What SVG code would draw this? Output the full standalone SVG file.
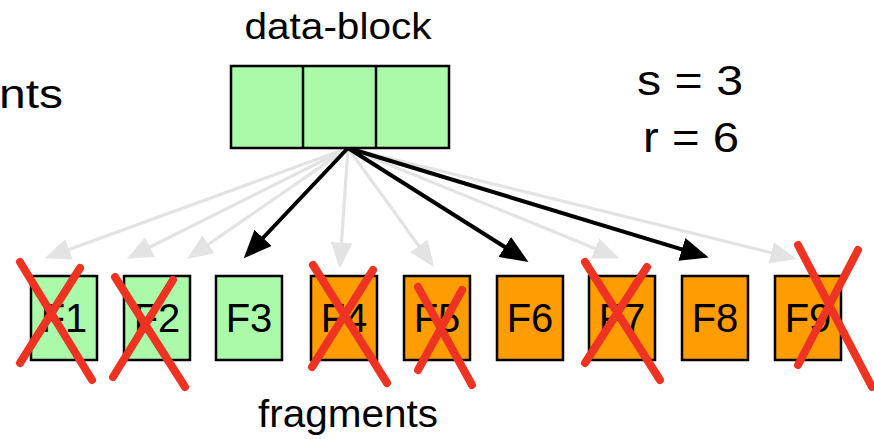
<svg xmlns="http://www.w3.org/2000/svg" width="874" height="439" viewBox="0 0 874 439">
<style>
text{font-family:"Liberation Sans",Arial,sans-serif;fill:#000}
.g{stroke:#e3e3e3;stroke-width:3.2;fill:none;marker-end:url(#ag)}
.k{stroke:#000;stroke-width:4;fill:none;marker-end:url(#ak)}
.green{fill:#aafaaa;stroke:#000;stroke-width:2.5}
.orange{fill:#ff9c00;stroke:#000;stroke-width:2.5}
.x{stroke:#ee3322;stroke-width:8;stroke-linecap:round;fill:none}
.lbl{font-size:40px;text-anchor:middle}
</style>
<defs>
<marker id="ag" markerUnits="userSpaceOnUse" markerWidth="26" markerHeight="22" refX="4" refY="10" orient="auto" viewBox="0 0 24 20"><path d="M0,0 L24,10 L0,20 Z" fill="#e3e3e3"/></marker>
<marker id="ak" markerUnits="userSpaceOnUse" markerWidth="28" markerHeight="24" refX="4" refY="11" orient="auto" viewBox="0 0 26 22"><path d="M0,0 L26,11 L0,22 Z" fill="#000"/></marker>
</defs>
<rect width="874" height="439" fill="#fff"/>
<g id="labels">
<text x="338" y="39" font-size="36" text-anchor="middle" textLength="187" lengthAdjust="spacingAndGlyphs">data-block</text>
<text x="63" y="108" font-size="40" text-anchor="end" textLength="64" lengthAdjust="spacingAndGlyphs">nts</text>
<text x="637" y="95" font-size="42" textLength="106" lengthAdjust="spacingAndGlyphs">s = 3</text>
<text x="643" y="152" font-size="42" textLength="96" lengthAdjust="spacingAndGlyphs">r = 6</text>
<text x="258" y="427" font-size="38" textLength="180" lengthAdjust="spacingAndGlyphs">fragments</text>
</g>
<g id="connectors">
<line class="g" x1="348" y1="148" x2="64.9" y2="250.9"/>
<line class="g" x1="348" y1="148" x2="146.1" y2="249"/>
<line class="g" x1="348" y1="148" x2="204.8" y2="246.8"/>
<line class="g" x1="348" y1="148" x2="341.2" y2="247"/>
<line class="g" x1="348" y1="148" x2="421.4" y2="249.4"/>
<line class="g" x1="348" y1="148" x2="599.3" y2="250.2"/>
<line class="g" x1="348" y1="148" x2="775.5" y2="253.7"/>
<line class="k" x1="348" y1="148" x2="260.1" y2="241"/>
<line class="k" x1="348" y1="148" x2="508.4" y2="249.3"/>
<line class="k" x1="348" y1="148" x2="686" y2="250.6"/>
</g>
<g id="data-block">
<rect class="green" x="231" y="66" width="218" height="82"/>
<line x1="303" y1="66" x2="303" y2="148" stroke="#000" stroke-width="2.5"/>
<line x1="376" y1="66" x2="376" y2="148" stroke="#000" stroke-width="2.5"/>
</g>
<g id="F1"><rect class="green" x="31" y="276" width="66" height="84"/><text class="lbl" x="64" y="332">F1</text><path class="x" d="M20,262 L92,380 M80,268 L20,363"/></g>
<g id="F2"><rect class="green" x="124" y="276" width="66" height="84"/><text class="lbl" x="157" y="332">F2</text><path class="x" d="M115,277 L185,387 M173,280 L113,377"/></g>
<g id="F3"><rect class="green" x="216" y="276" width="66" height="84"/><text class="lbl" x="249" y="332">F3</text></g>
<g id="F4"><rect class="orange" x="311" y="276" width="66" height="84"/><text class="lbl" x="344" y="332">F4</text><path class="x" d="M313,265 L387,383 M373,270 L312,367"/></g>
<g id="F5"><rect class="orange" x="404" y="276" width="66" height="84"/><text class="lbl" x="437" y="332">F5</text><path class="x" d="M418,287 L472,385 M462,290 L418,370"/></g>
<g id="F6"><rect class="orange" x="497" y="276" width="66" height="84"/><text class="lbl" x="530" y="332">F6</text></g>
<g id="F7"><rect class="orange" x="589" y="276" width="66" height="84"/><text class="lbl" x="622" y="332">F7</text><path class="x" d="M585,262 L660,380 M647,267 L585,363"/></g>
<g id="F8"><rect class="orange" x="682" y="276" width="66" height="84"/><text class="lbl" x="715" y="332">F8</text></g>
<g id="F9"><rect class="orange" x="775" y="276" width="66" height="84"/><text class="lbl" x="808" y="332">F9</text><path class="x" d="M798,245 L872,387 M858,250 L798,365"/></g>
</svg>
